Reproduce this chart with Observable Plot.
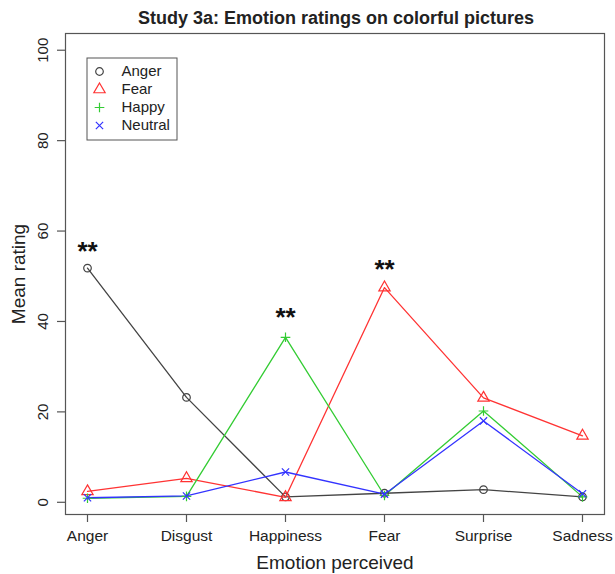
<!DOCTYPE html>
<html>
<head>
<meta charset="utf-8">
<script src="https://cdn.jsdelivr.net/npm/d3@7"></script>
<script src="https://cdn.jsdelivr.net/npm/@observablehq/plot@0.6"></script>
<style>
  body { margin: 0; background: #fff; font-family: "Liberation Sans", Arial, Helvetica, sans-serif; }
  #title { width: 615px; height: 30px; position: relative; }
  #title span { position: absolute; left: 336px; top: 18px; transform: translate(-50%, -50%); font-weight: bold; font-size: 18px; color: #222; white-space: nowrap; }
</style>
</head>
<body>
<div id="title"><span>Study 3a: Emotion ratings on colorful pictures</span></div>
<div id="chart"></div>
<script>
const emotions = ["Anger", "Disgust", "Happiness", "Fear", "Surprise", "Sadness"];
const angerValues   = [51.8, 23.2, 1.2, 2.0, 2.8, 1.2];
const fearValues    = [2.4, 5.3, 1.1, 47.5, 23.1, 14.7];
const happyValues   = [0.9, 1.3, 36.5, 1.5, 20.2, 1.2];
const neutralValues = [1.0, 1.4, 6.7, 1.8, 18.0, 1.9];
const seriesNames = ["Anger", "Fear", "Happy", "Neutral"];
const seriesColors = ["#444444", "#ff3333", "#33cc33", "#3333ff"];
const seriesSymbols = ["circle", "triangle", "plus", "times"];
const yTicks = [0, 20, 40, 60, 80, 100];
const starEmotions = ["Anger", "Happiness", "Fear"];
const starValues = [56.0, 41.4, 52.1];
const starLabel = "**";

const seriesValues = [angerValues, fearValues, happyValues, neutralValues];
const symbolR = {circle: 3.8, triangle: 4.2, plus: 3.2, times: 3.4};
const data = seriesNames.flatMap((s, i) =>
  emotions.map((e, j) => ({series: s, emotion: e, value: seriesValues[i][j]})));
const stars = starEmotions.map((e, i) => ({emotion: e, value: starValues[i]}));

const font = "Liberation Sans, Arial, Helvetica, sans-serif";
const txt = "#222";

const legendBox = (index, scales, values, dims) => {
  const r = d3.create("svg:rect")
    .attr("x", dims.marginLeft + 22).attr("y", dims.marginTop + 25)
    .attr("width", 90).attr("height", 82)
    .attr("fill", "white").attr("stroke", "#555").attr("stroke-width", 1);
  return r.node();
};

const marks = [
  Plot.frame({stroke: "#555", strokeWidth: 1.2}),
  Plot.axisY({ticks: yTicks, tickSize: 8, tickFormat: () => "", label: null, stroke: "#555", strokeWidth: 1.2}),
  Plot.axisX({tickSize: 8, tickFormat: () => "", label: null, stroke: "#555", strokeWidth: 1.2}),
  Plot.text(yTicks, {y: d => d, text: d => String(d), frameAnchor: "left", dx: -22, rotate: -90,
    textAnchor: "middle", lineAnchor: "middle", fontSize: 15, fill: txt}),
  Plot.text(emotions, {x: d => d, text: d => d, frameAnchor: "bottom", dy: 22,
    textAnchor: "middle", lineAnchor: "middle", fontSize: 15.5, fill: txt}),
  Plot.text(["Emotion perceived"], {text: d => d, frameAnchor: "bottom", dy: 48,
    textAnchor: "middle", lineAnchor: "middle", fontSize: 19, fill: txt}),
  Plot.text(["Mean rating"], {text: d => d, frameAnchor: "left", dx: -47, rotate: -90,
    textAnchor: "middle", lineAnchor: "middle", fontSize: 19, fill: txt}),
];

seriesNames.forEach((s, i) => {
  const d = data.filter(r => r.series === s);
  marks.push(Plot.line(d, {x: "emotion", y: "value", stroke: seriesColors[i], strokeWidth: 1.3}));
});
seriesNames.forEach((s, i) => {
  const d = data.filter(r => r.series === s);
  marks.push(Plot.dot(d, {x: "emotion", y: "value", symbol: () => seriesSymbols[i],
    r: symbolR[seriesSymbols[i]], stroke: seriesColors[i], fill: "none", strokeWidth: 1.2}));
});

marks.push(Plot.text(stars, {x: "emotion", y: "value", text: () => starLabel,
  fontSize: 26, fontWeight: "bold", fill: "#111", lineAnchor: "middle", dy: 3}));

marks.push(legendBox);
seriesNames.forEach((s, i) => {
  marks.push(Plot.dot([s], {frameAnchor: "top-left", dx: 34, dy: 38 + i * 18,
    symbol: () => seriesSymbols[i], r: symbolR[seriesSymbols[i]], stroke: seriesColors[i], fill: "none", strokeWidth: 1.2}));
  marks.push(Plot.text([s], {frameAnchor: "top-left", dx: 56, dy: 38 + i * 18, text: d => d,
    textAnchor: "start", lineAnchor: "middle", fontSize: 15, fill: txt}));
});

const chart = Plot.plot({
  width: 615,
  height: 544,
  marginTop: 3,
  marginBottom: 60,
  marginLeft: 65,
  marginRight: 11,
  style: {fontFamily: font, background: "white"},
  x: {type: "point", domain: emotions, padding: 0.2, axis: null},
  y: {domain: [-2.7, 103.7], axis: null},
  symbol: {type: "identity"},
  marks
});
document.getElementById("chart").appendChild(chart);
</script>
</body>
</html>
